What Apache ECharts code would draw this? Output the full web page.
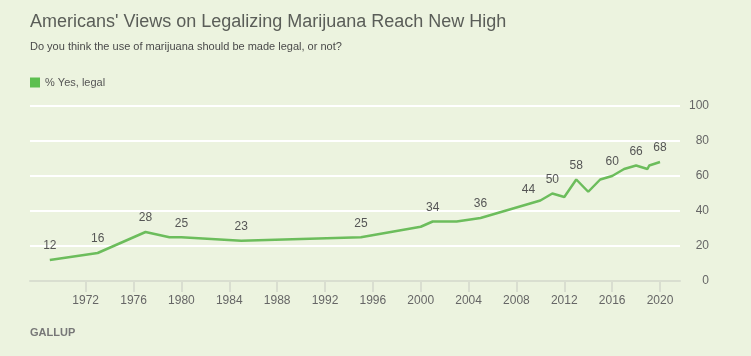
<!DOCTYPE html>
<html>
<head>
<meta charset="utf-8">
<script src="https://cdn.jsdelivr.net/npm/echarts@6/dist/echarts.min.js"></script>
<style>
html,body{margin:0;padding:0;background:#ecf3df;}
#c{width:751px;height:356px;}
</style>
</head>
<body>
<div id="c"></div>
<script>
var years = [1969, 1973, 1977, 1979, 1980, 1985, 1995, 2000, 2001, 2003, 2005, 2009, 2010, 2011, 2012, 2013, 2014, 2015, 2016, 2017, 2018, 2018.95, 2019.1, 2020];
var values = [12, 16, 28, 25, 25, 23, 25, 31, 34, 34, 36, 44, 46, 50, 48, 58, 51, 58, 60, 64, 66, 64, 66, 68];
var labeledYears = [1969, 1973, 1977, 1980, 1985, 1995, 2001, 2005, 2009, 2011, 2013, 2016, 2018, 2020];
var xTickLabels = [1972, 1976, 1980, 1984, 1988, 1992, 1996, 2000, 2004, 2008, 2012, 2016, 2020];
var yTicks = [0, 20, 40, 60, 80, 100];
var seriesName = '% Yes, legal';

var FONT = '"Liberation Sans", Arial, sans-serif';
var data = years.map(function (y, i) {
  var item = { value: [y, values[i]] };
  if (labeledYears.indexOf(y) >= 0) {
    item.label = { show: true };
  }
  return item;
});

var chart = echarts.init(document.getElementById('c'), null, { renderer: 'canvas' });
chart.setOption({
  backgroundColor: '#ecf3df',
  animation: false,
  textStyle: { fontFamily: FONT },
  title: [
    { text: "Americans' Views on Legalizing Marijuana Reach New High", left: 25, top: 8,
      textStyle: { fontFamily: FONT, fontSize: 18, fontWeight: 'normal', color: '#5a5d58' } },
    { text: 'Do you think the use of marijuana should be made legal, or not?', left: 25, top: 36,
      textStyle: { fontFamily: FONT, fontSize: 11, fontWeight: 'normal', color: '#4a4a4a' } }
  ],
  legend: {
    left: 25, top: 72, itemWidth: 10, itemHeight: 10, itemGap: 10,
    icon: 'rect',
    data: [seriesName],
    textStyle: { fontFamily: FONT, fontSize: 11, color: '#555' }
  },
  graphic: [
    { type: 'text', left: 30, top: 327,
      style: { text: 'GALLUP', fontFamily: FONT, fontSize: 11, fontWeight: 'bold', fill: '#777' } }
  ],
  grid: { left: 30, right: 71, top: 106, bottom: 75, containLabel: false },
  xAxis: {
    type: 'value', min: 1967.345, max: 2021.67,
    axisLine: { show: true, lineStyle: { color: '#d9ded0', width: 2 } },
    axisTick: { show: true, length: 11, customValues: xTickLabels, lineStyle: { color: '#d9ded0', width: 2 } },
    axisLabel: { show: true, customValues: xTickLabels, margin: 14, fontSize: 12, color: '#666', fontFamily: FONT,
      formatter: function (v) { return String(v); } },
    splitLine: { show: false }
  },
  yAxis: {
    type: 'value', position: 'right', min: 0, max: 100, interval: 20,
    axisLine: { show: false }, axisTick: { show: false },
    axisLabel: { align: 'right', margin: 29, fontSize: 12, color: '#666', fontFamily: FONT,
      customValues: yTicks },
    splitLine: { show: true, lineStyle: { color: '#ffffff', width: 2 } }
  },
  series: [{
    name: seriesName, type: 'line', data: data,
    showSymbol: true, symbol: 'circle', symbolSize: 0,
    itemStyle: { color: '#5cbf4f' },
    lineStyle: { color: '#6cbd5c', width: 2.5 },
    label: { show: false, position: 'top', distance: 8, fontSize: 12, color: '#555', fontFamily: FONT,
      formatter: function (p) { return p.value[1]; } },
    labelLayout: { hideOverlap: false }
  }]
});
</script>
</body>
</html>
